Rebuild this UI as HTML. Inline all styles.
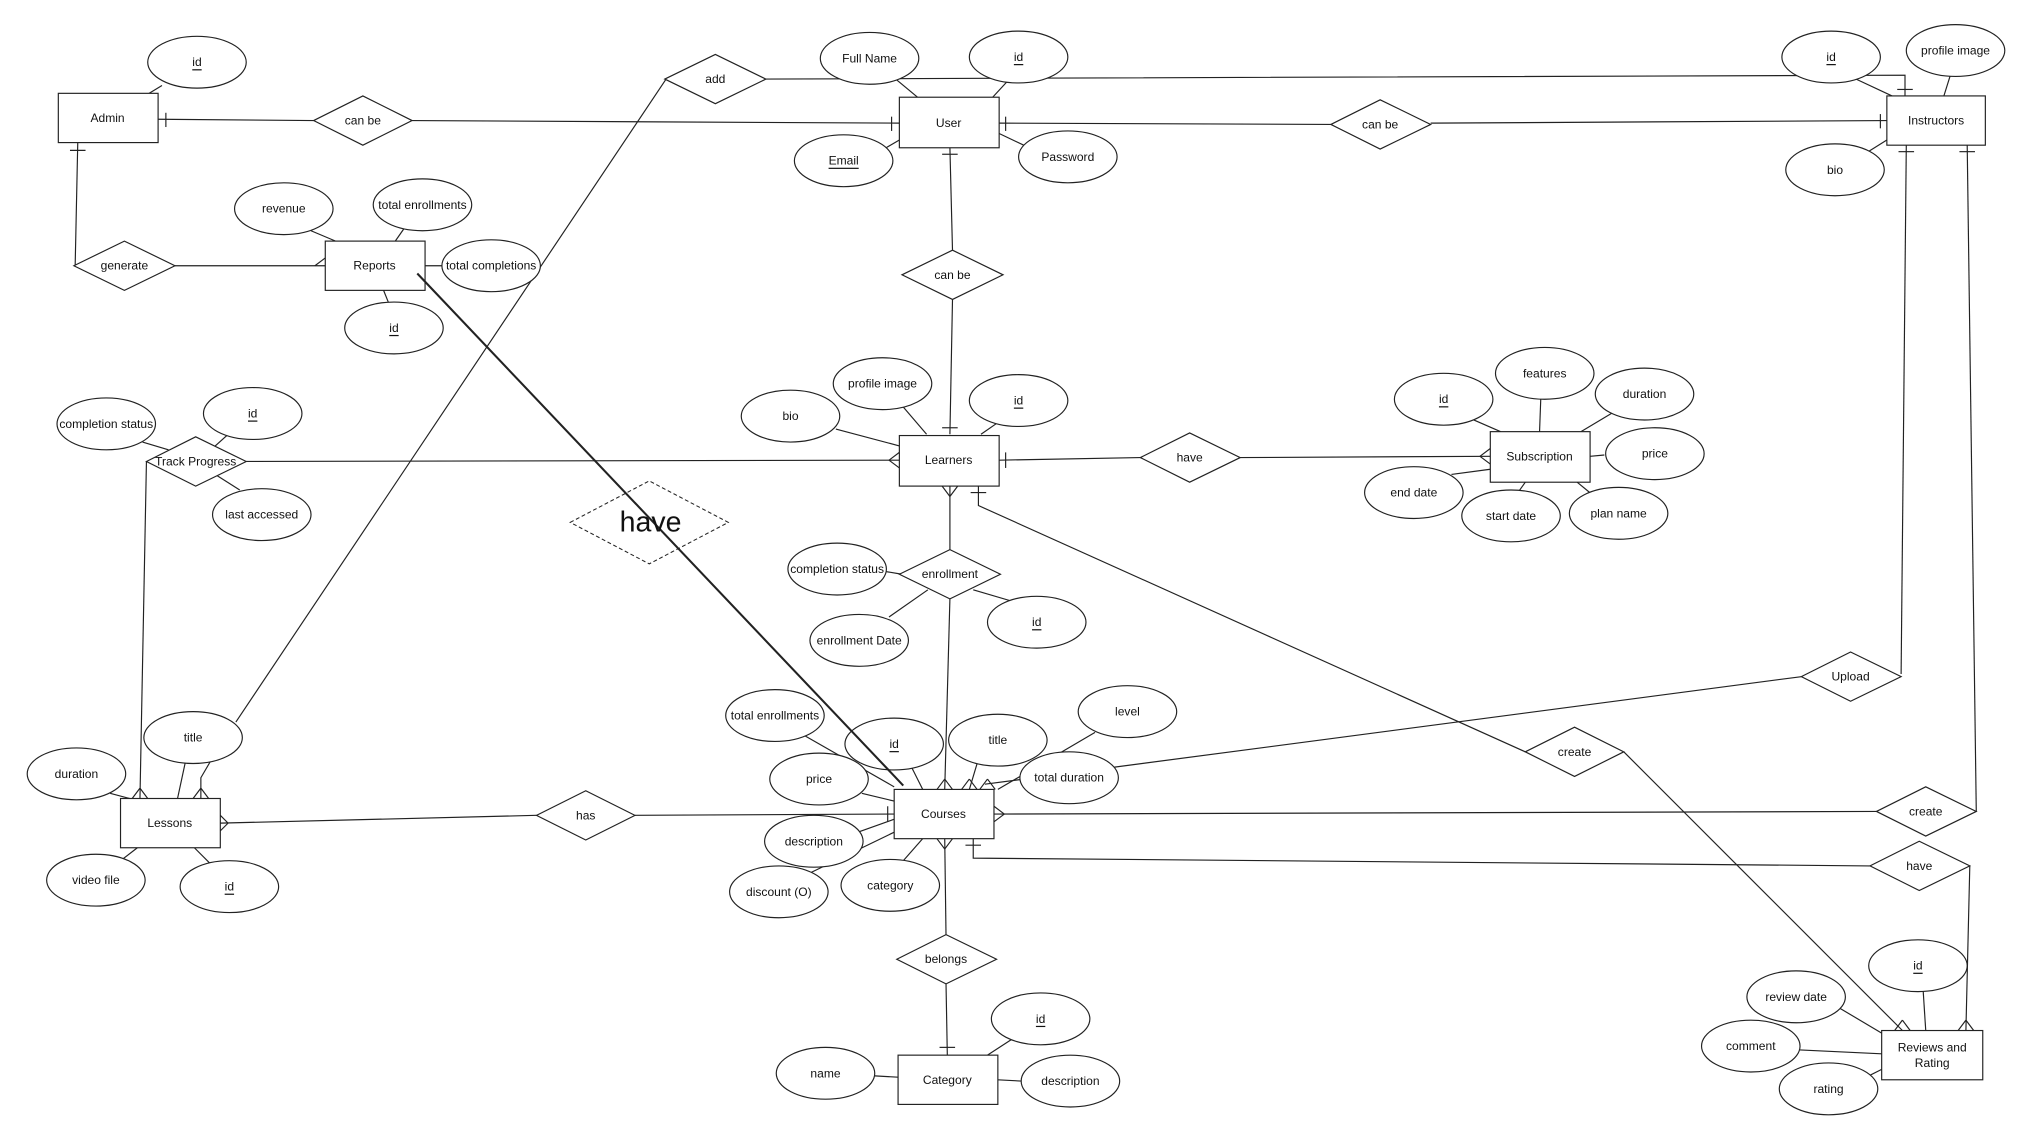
<!DOCTYPE html>
<html><head><meta charset="utf-8"><style>
html,body{margin:0;padding:0;background:#fff;}
svg{display:block;}
text{font-family:"Liberation Sans",Arial,sans-serif;font-size:9.3px;fill:#111;text-anchor:middle;dominant-baseline:central;}
.l{stroke:#222;stroke-width:0.9;fill:none;}
.t{stroke:#222;stroke-width:1.6;fill:none;}
.s{fill:#fff;stroke:#222;stroke-width:0.9;}
</style></head><body>
<svg width="2032" height="1142" viewBox="0 0 1568 881" preserveAspectRatio="none" xmlns="http://www.w3.org/2000/svg">
<g class="l">
<polyline points="122,92 242,93"/><polyline points="318,93 694,95"/>
<line x1="128" y1="87" x2="128" y2="98"/><line x1="688" y1="90" x2="688" y2="101"/>
<polyline points="60,110 58,205"/><line x1="54" y1="116" x2="66" y2="116"/>
<polyline points="135,205 251,205"/><polyline points="243,205 251,199 M243,205 251,211"/>
<polyline points="591,61 1470,58 1470,74"/><line x1="1464" y1="69" x2="1476" y2="69"/>
<polyline points="514,61 182,557"/>
<polyline points="733,114 735,193"/><line x1="727" y1="119" x2="739" y2="119"/>
<polyline points="735,231 733,335"/><line x1="727" y1="330" x2="739" y2="330"/>
<polyline points="771,95 1027,96"/><line x1="776" y1="90" x2="776" y2="101"/>
<polyline points="1104,95 1456,93"/><line x1="1451" y1="88" x2="1451" y2="99"/>
<polyline points="190,356 694,355"/><path d="M686,355 L694,349 M686,355 L694,361"/>
<polyline points="113,356 108,616"/><path d="M108,608 L102,616 M108,608 L114,616"/>
<polyline points="170,635 414,629"/><path d="M176,635 L170,629 M176,635 L170,641"/>
<polyline points="490,629 690,628"/><line x1="685" y1="622" x2="685" y2="634"/>
<polyline points="771,355 880,353"/><line x1="776" y1="349" x2="776" y2="361"/>
<polyline points="957,353 1150,352"/><path d="M1142,352 L1150,346 M1142,352 L1150,358"/>
<polyline points="733,375 733,424"/><path d="M733,383 L727,375 M733,383 L739,375"/>
<polyline points="733,462 729,609"/><path d="M729,601 L723,609 M729,601 L735,609"/>
<polyline points="755,375 755,390 1177,580"/><line x1="749" y1="380" x2="761" y2="380"/>
<polyline points="1253,580 1468,795"/><path d="M1468,787 L1462,795 M1468,787 L1474,795"/>
<polyline points="1471,112 1467,520"/><line x1="1465" y1="117" x2="1477" y2="117"/>
<polyline points="1390,522 760,605"/>
<polyline points="1518,112 1525,626"/><line x1="1512" y1="117" x2="1524" y2="117"/>
<polyline points="1448,626 767,628"/><path d="M775,628 L767,622 M775,628 L767,634"/>
<polyline points="751,647 751,662 1443,668"/><line x1="745" y1="652" x2="757" y2="652"/>
<polyline points="1520,668 1517,795"/><path d="M1517,787 L1511,795 M1517,787 L1523,795"/>
<polyline points="729,647 730,722"/><path d="M729,655 L723,647 M729,655 L735,647"/>
<polyline points="730,759 731,814"/><line x1="725" y1="808" x2="737" y2="808"/>
<line x1="125" y1="66" x2="115" y2="72"/>
<line x1="690" y1="60" x2="708" y2="75"/><line x1="778" y1="62" x2="766" y2="75"/>
<line x1="682" y1="115" x2="694" y2="108"/><line x1="790" y1="112" x2="771" y2="103"/>
<line x1="1430" y1="60" x2="1460" y2="74"/><line x1="1505" y1="58" x2="1500" y2="74"/>
<line x1="1440" y1="118" x2="1456" y2="108"/>
<line x1="240" y1="178" x2="259" y2="186"/><line x1="312" y1="176" x2="305" y2="186"/>
<line x1="328" y1="205" x2="341" y2="205"/><line x1="300" y1="234" x2="296" y2="224"/>
<line x1="110" y1="341" x2="130" y2="347"/><line x1="175" y1="336" x2="165" y2="345"/>
<line x1="185" y1="378" x2="166" y2="366"/>
<line x1="645" y1="331" x2="694" y2="344"/><line x1="697" y1="314" x2="715" y2="335"/>
<line x1="770" y1="326" x2="757" y2="335"/>
<line x1="1135" y1="323" x2="1158" y2="333"/><line x1="1189" y1="306" x2="1188" y2="333"/>
<line x1="1245" y1="318" x2="1220" y2="333"/><line x1="1238" y1="351" x2="1227" y2="352"/>
<line x1="1120" y1="366" x2="1150" y2="362"/><line x1="1172" y1="379" x2="1177" y2="372"/>
<line x1="1228" y1="381" x2="1217" y2="372"/>
<line x1="684" y1="441" x2="696" y2="443"/><line x1="686" y1="476" x2="716" y2="455"/>
<line x1="785" y1="465" x2="751" y2="455"/>
<line x1="620" y1="567" x2="690" y2="607"/><line x1="703" y1="591" x2="712" y2="609"/>
<polyline points="765,589 754,589 748,609"/><path d="M748,601 L742,609 M748,601 L754,609"/>
<line x1="845" y1="565" x2="770" y2="609"/><path d="M762,601 L756,609 M762,601 L768,609"/>
<line x1="665" y1="612" x2="690" y2="618"/><line x1="662" y1="642" x2="690" y2="632"/>
<line x1="626" y1="673" x2="690" y2="642"/><line x1="697" y1="664" x2="712" y2="647"/>
<line x1="85" y1="612" x2="100" y2="616"/><line x1="143" y1="588" x2="137" y2="616"/>
<polyline points="162,588 155,600 155,616"/><path d="M155,608 L149,616 M155,608 L161,616"/>
<line x1="93" y1="664" x2="106" y2="654"/><line x1="162" y1="666" x2="150" y2="654"/>
<line x1="675" y1="830" x2="693" y2="831"/><line x1="782" y1="801" x2="762" y2="814"/>
<line x1="788" y1="834" x2="770" y2="833"/>
<line x1="1484" y1="764" x2="1486" y2="795"/><line x1="1420" y1="778" x2="1452" y2="797"/>
<line x1="1389" y1="810" x2="1452" y2="813"/><line x1="1440" y1="831" x2="1452" y2="825"/>
</g>
<g class="s">
<rect x="45" y="72" width="77" height="38"/>
<rect x="694" y="75" width="77" height="39"/>
<rect x="1456" y="74" width="76" height="38"/>
<rect x="251" y="186" width="77" height="38"/>
<rect x="694" y="336" width="77" height="39"/>
<rect x="1150" y="333" width="77" height="39"/>
<rect x="93" y="616" width="77" height="38"/>
<rect x="690" y="609" width="77" height="38"/>
<rect x="693" y="814" width="77" height="38"/>
<rect x="1452" y="795" width="78" height="38"/>
</g>
<g class="s">
<polygon points="242,93 280,74 318,93 280,112"/>
<polygon points="513,61 552,42 591,61 552,80"/>
<polygon points="1027,96 1065,77 1104,96 1065,115"/>
<polygon points="57,205 96,186 135,205 96,224"/>
<polygon points="696,212 735,193 774,212 735,231"/>
<polygon points="880,353 918,334 957,353 918,372"/>
<polygon points="113,356 151,337 190,356 151,375"/>
<polygon points="694,443 733,424 772,443 733,462"/>
<polygon points="1390,522 1428,503 1467,522 1428,541"/>
<polygon points="1177,580 1215,561 1253,580 1215,599"/>
<polygon points="414,629 452,610 490,629 452,648"/>
<polygon points="1448,626 1486,607 1525,626 1486,645"/>
<polygon points="1443,668 1481,649 1520,668 1481,687"/>
<polygon points="692,740 730,721 769,740 730,759"/>
</g>
<polygon points="440,403 501,371 562,403 501,435" fill="none" stroke="#222" stroke-width="0.8" stroke-dasharray="3,2"/>
<g class="s">
<ellipse cx="152" cy="48" rx="38" ry="20"/>
<ellipse cx="671" cy="45" rx="38" ry="20"/>
<ellipse cx="786" cy="44" rx="38" ry="20"/>
<ellipse cx="651" cy="124" rx="38" ry="20"/>
<ellipse cx="824" cy="121" rx="38" ry="20"/>
<ellipse cx="1413" cy="44" rx="38" ry="20"/>
<ellipse cx="1509" cy="39" rx="38" ry="20"/>
<ellipse cx="1416" cy="131" rx="38" ry="20"/>
<ellipse cx="219" cy="161" rx="38" ry="20"/>
<ellipse cx="326" cy="158" rx="38" ry="20"/>
<ellipse cx="379" cy="205" rx="38" ry="20"/>
<ellipse cx="304" cy="253" rx="38" ry="20"/>
<ellipse cx="82" cy="327" rx="38" ry="20"/>
<ellipse cx="195" cy="319" rx="38" ry="20"/>
<ellipse cx="202" cy="397" rx="38" ry="20"/>
<ellipse cx="610" cy="321" rx="38" ry="20"/>
<ellipse cx="681" cy="296" rx="38" ry="20"/>
<ellipse cx="786" cy="309" rx="38" ry="20"/>
<ellipse cx="1114" cy="308" rx="38" ry="20"/>
<ellipse cx="1192" cy="288" rx="38" ry="20"/>
<ellipse cx="1269" cy="304" rx="38" ry="20"/>
<ellipse cx="1277" cy="350" rx="38" ry="20"/>
<ellipse cx="1091" cy="380" rx="38" ry="20"/>
<ellipse cx="1166" cy="398" rx="38" ry="20"/>
<ellipse cx="1249" cy="396" rx="38" ry="20"/>
<ellipse cx="646" cy="439" rx="38" ry="20"/>
<ellipse cx="663" cy="494" rx="38" ry="20"/>
<ellipse cx="800" cy="480" rx="38" ry="20"/>
<ellipse cx="598" cy="552" rx="38" ry="20"/>
<ellipse cx="690" cy="574" rx="38" ry="20"/>
<ellipse cx="770" cy="571" rx="38" ry="20"/>
<ellipse cx="870" cy="549" rx="38" ry="20"/>
<ellipse cx="825" cy="600" rx="38" ry="20"/>
<ellipse cx="632" cy="601" rx="38" ry="20"/>
<ellipse cx="628" cy="649" rx="38" ry="20"/>
<ellipse cx="601" cy="688" rx="38" ry="20"/>
<ellipse cx="687" cy="683" rx="38" ry="20"/>
<ellipse cx="59" cy="597" rx="38" ry="20"/>
<ellipse cx="149" cy="569" rx="38" ry="20"/>
<ellipse cx="74" cy="679" rx="38" ry="20"/>
<ellipse cx="177" cy="684" rx="38" ry="20"/>
<ellipse cx="637" cy="828" rx="38" ry="20"/>
<ellipse cx="803" cy="786" rx="38" ry="20"/>
<ellipse cx="826" cy="834" rx="38" ry="20"/>
<ellipse cx="1480" cy="745" rx="38" ry="20"/>
<ellipse cx="1386" cy="769" rx="38" ry="20"/>
<ellipse cx="1351" cy="807" rx="38" ry="20"/>
<ellipse cx="1411" cy="840" rx="38" ry="20"/>
</g>
<line class="t" x1="322" y1="211" x2="697" y2="606"/>
<text x="83" y="91">Admin</text>
<text x="732" y="95">User</text>
<text x="1494" y="93">Instructors</text>
<text x="289" y="205">Reports</text>
<text x="732" y="355">Learners</text>
<text x="1188" y="352">Subscription</text>
<text x="131" y="635">Lessons</text>
<text x="728" y="628">Courses</text>
<text x="731" y="833">Category</text>
<text x="1491" y="808">Reviews and</text>
<text x="1491" y="820">Rating</text>
<text x="280" y="93">can be</text>
<text x="552" y="61">add</text>
<text x="1065" y="96">can be</text>
<text x="96" y="205">generate</text>
<text x="735" y="212">can be</text>
<text x="918" y="353">have</text>
<text x="151" y="356">Track Progress</text>
<text x="733" y="443">enrollment</text>
<text x="1428" y="522">Upload</text>
<text x="1215" y="580">create</text>
<text x="452" y="629">has</text>
<text x="1486" y="626">create</text>
<text x="1481" y="668">have</text>
<text x="730" y="740">belongs</text>
<text x="502" y="403" style="font-size:22px">have</text>
<text x="152" y="48" text-decoration="underline">id</text>
<text x="671" y="45">Full Name</text>
<text x="786" y="44" text-decoration="underline">id</text>
<text x="651" y="124" text-decoration="underline">Email</text>
<text x="824" y="121">Password</text>
<text x="1413" y="44" text-decoration="underline">id</text>
<text x="1509" y="39">profile image</text>
<text x="1416" y="131">bio</text>
<text x="219" y="161">revenue</text>
<text x="326" y="158">total enrollments</text>
<text x="379" y="205">total completions</text>
<text x="304" y="253" text-decoration="underline">id</text>
<text x="82" y="327">completion status</text>
<text x="195" y="319" text-decoration="underline">id</text>
<text x="202" y="397">last accessed</text>
<text x="610" y="321">bio</text>
<text x="681" y="296">profile image</text>
<text x="786" y="309" text-decoration="underline">id</text>
<text x="1114" y="308" text-decoration="underline">id</text>
<text x="1192" y="288">features</text>
<text x="1269" y="304">duration</text>
<text x="1277" y="350">price</text>
<text x="1091" y="380">end date</text>
<text x="1166" y="398">start date</text>
<text x="1249" y="396">plan name</text>
<text x="646" y="439">completion status</text>
<text x="663" y="494">enrollment Date</text>
<text x="800" y="480" text-decoration="underline">id</text>
<text x="598" y="552">total enrollments</text>
<text x="690" y="574" text-decoration="underline">id</text>
<text x="770" y="571">title</text>
<text x="870" y="549">level</text>
<text x="825" y="600">total duration</text>
<text x="632" y="601">price</text>
<text x="628" y="649">description</text>
<text x="601" y="688">discount (O)</text>
<text x="687" y="683">category</text>
<text x="59" y="597">duration</text>
<text x="149" y="569">title</text>
<text x="74" y="679">video file</text>
<text x="177" y="684" text-decoration="underline">id</text>
<text x="637" y="828">name</text>
<text x="803" y="786" text-decoration="underline">id</text>
<text x="826" y="834">description</text>
<text x="1480" y="745" text-decoration="underline">id</text>
<text x="1386" y="769">review date</text>
<text x="1351" y="807">comment</text>
<text x="1411" y="840">rating</text>
</svg>
</body></html>
